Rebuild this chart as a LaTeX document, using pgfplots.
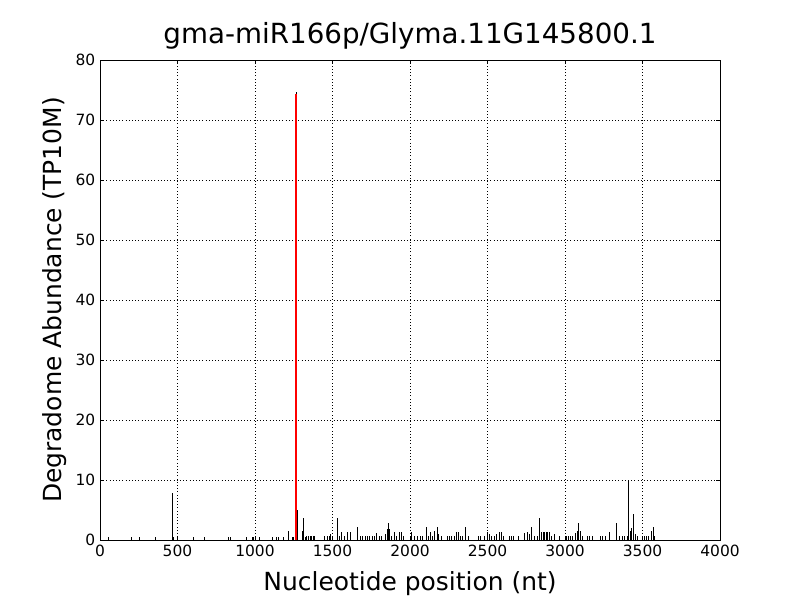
\documentclass[border=0pt]{standalone}
\usepackage{fontspec}
\setmainfont{DejaVu Sans}
\usepackage{pgfplots}
\usepackage{pgfplotstable}
\pgfplotsset{compat=1.18}

\pgfplotstableread{
x y
54 0.5
204 0.5
258 0.5
355 0.5
467 7.9
472 0.5
602 0.5
673 0.5
826 0.5
845 0.5
942 0.5
983 0.5
990 0.5
1028 0.5
1114 0.5
1140 0.5
1150 0.5
1183 0.5
1215 1.5
1240 0.5
1247 0.5
1265 74.6
1275 5.0
1305 1.5
1316 3.6
1325 0.5
1335 0.6
1345 0.6
1355 0.6
1365 0.6
1375 0.6
1385 0.6
1450 0.6
1465 0.6
1480 0.6
1490 1.0
1498 0.6
1531 3.6
1545 0.6
1559 1.4
1575 0.6
1595 1.4
1613 1.4
1660 2.1
1680 0.6
1695 0.6
1710 0.6
1725 0.6
1740 0.6
1755 0.6
1770 0.6
1785 1.2
1800 0.6
1815 0.6
1845 1.0
1855 1.8
1864 2.9
1870 1.8
1880 0.6
1903 1.3
1915 0.6
1935 1.3
1946 1.3
1960 0.6
2011 1.3
2030 0.6
2050 0.6
2065 0.6
2080 0.6
2108 2.1
2120 0.6
2129 1.3
2145 0.6
2161 1.5
2176 2.1
2185 1.0
2200 0.6
2240 0.6
2255 0.6
2270 0.6
2285 0.6
2300 1.3
2312 1.3
2325 0.6
2340 0.6
2355 2.1
2375 0.6
2440 0.6
2455 0.6
2480 0.6
2499 1.3
2510 1.0
2525 0.6
2545 0.6
2560 1.0
2580 1.3
2591 1.3
2600 0.6
2640 0.6
2655 0.6
2670 0.6
2700 0.6
2740 1.2
2755 1.3
2770 1.0
2785 2.1
2800 0.6
2820 0.6
2834 3.6
2850 1.3
2860 1.3
2870 1.3
2880 1.3
2890 1.3
2900 1.3
2915 0.6
2935 1.0
2965 0.6
3010 0.6
3020 0.6
3035 0.6
3050 0.6
3065 1.2
3080 1.5
3088 2.8
3097 1.5
3110 0.6
3145 0.6
3160 0.6
3175 0.6
3230 0.6
3245 0.6
3260 0.6
3290 1.3
3333 2.9
3350 0.6
3370 0.6
3385 0.6
3400 0.6
3408 10.0
3420 1.5
3430 2.0
3441 4.3
3455 1.0
3470 0.6
3510 0.6
3525 0.6
3540 0.6
3559 1.5
3570 2.1
3578 0.6
}\degradome

\pgfplotstableread{
x y
1265 74.3
}\target

\begin{document}
\begin{tikzpicture}
\begin{axis}[
  scale only axis, width=465pt, height=360pt,
  xmin=0, xmax=4000, ymin=0, ymax=80,
  xtick={0,500,...,4000}, ytick={0,10,...,80},
  grid=major, grid style={black, dotted, line width=0.6pt},
  tick align=inside, major tick length=3pt,
  tick style={black, line width=0.6pt},
  axis line style={line width=0.75pt},
  ticklabel style={font=\fontsize{11.6}{13}\selectfont},
  /pgf/number format/assume math mode=true,
  scaled ticks=false,
  xticklabel style={/pgf/number format/1000 sep={}},
  title={gma-miR166p/Glyma.11G145800.1},
  title style={font=\fontsize{20.8}{24}\selectfont, at={(axis description cs:0.5,1)}, anchor=base, yshift=6pt},
  xlabel={Nucleotide position (nt)},
  ylabel={Degradome Abundance (TP10M)},
  label style={font=\fontsize{18.7}{22}\selectfont},
  xlabel style={at={(axis description cs:0.5,0)}, anchor=base, yshift=-37.5pt},
  ylabel style={at={(axis description cs:0,0.5)}, anchor=base, yshift=29pt},
]
\addplot[ycomb, black, line width=0.75pt, mark=none] table[x=x, y=y] {\degradome};
\addplot[ycomb, red, line width=1.6pt, mark=none] table[x=x, y=y] {\target};
\end{axis}
\path ([shift={(-75pt,-45pt)}]current axis.south west) ([shift={(60pt,45pt)}]current axis.north east);
\end{tikzpicture}
\end{document}
